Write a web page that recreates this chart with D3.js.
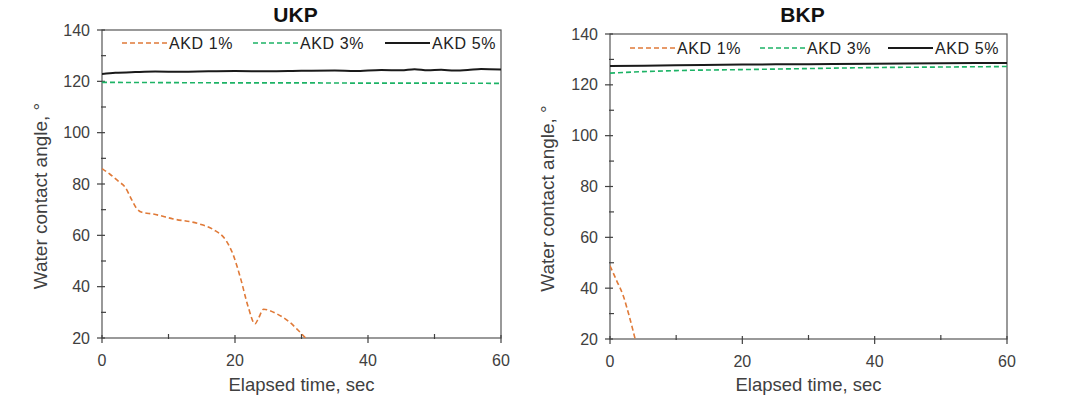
<!DOCTYPE html>
<html><head><meta charset="utf-8">
<script src="https://cdn.jsdelivr.net/npm/d3@7/dist/d3.min.js"></script>
<style>body{margin:0;background:#fff}svg{display:block;font-family:"Liberation Sans",Arial,sans-serif}</style>
</head><body><svg id="c" width="1075" height="407"></svg>
<script>
const panels = ["UKP", "BKP"];
const seriesNames = ["AKD 1%", "AKD 3%", "AKD 5%"];
const xTicks = [0, 20, 40, 60];
const yTicks = [20, 40, 60, 80, 100, 120, 140];
// UKP
const ukpAkd1 = [[0,86],[1.2,83.8],[2.5,81],[3.5,78.7],[4.5,73.7],[5.2,70.5],[6,69],[7.7,68.3],[10.7,66.4],[14.7,64.4],[16.7,62.3],[18.7,57.8],[19.7,52.6],[20.8,43.6],[22,32],[23,25.5],[23.5,27.5],[24.3,31.2],[26.3,29.4],[28.3,26],[29.5,23],[30.6,20]];
const ukpAkd3 = [[0,119.6],[10,119.5],[20,119.4],[30,119.4],[40,119.3],[50,119.3],[60,119.2]];
const ukpAkd5 = [[0,122.9],[2,123.3],[5,123.6],[8,123.8],[12,123.7],[16,123.9],[20,124],[25,123.9],[30,124.1],[35,124.2],[38,124],[42,124.4],[45,124.3],[47,124.7],[49,124.3],[51,124.5],[53,124.2],[55,124.4],[57,124.8],[60,124.6]];
// BKP
const bkpAkd1 = [[0,48.8],[1,43],[2,37],[2.8,30],[3.8,20]];
const bkpAkd3 = [[0,124.6],[5,125.2],[10,125.6],[20,126],[30,126.4],[40,126.8],[50,127],[60,127.2]];
const bkpAkd5 = [[0,127.4],[10,127.7],[20,128],[30,128.1],[40,128.3],[50,128.5],[60,128.6]];

const panelData = [[ukpAkd1, ukpAkd3, ukpAkd5], [bkpAkd1, bkpAkd3, bkpAkd5]];
const colors = ["#E07A38", "#1DB366", "#1a1a1a"];
const dashes = ["5,3", "5,3", null];
const widths = [1.6, 1.6, 2];

const layouts = [
  {x0:102, x1:501, y0:30, y1:338, ylabX:40, legLines:[122,253,385], legY:43},
  {x0:610, x1:1007, y0:34, y1:339, ylabX:547, legLines:[630,760,888], legY:48}
];
const svg = d3.select("#c");
const axisCol = "#404040";

panels.forEach((name, pi) => {
  const L = layouts[pi];
  const x = d3.scaleLinear().domain([0, 60]).range([L.x0, L.x1]);
  const y = d3.scaleLinear().domain([20, 140]).range([L.y1, L.y0]);
  const g = svg.append("g");
  const clipId = "clip" + pi;
  svg.append("clipPath").attr("id", clipId).append("rect")
    .attr("x", L.x0).attr("y", L.y0).attr("width", L.x1 - L.x0).attr("height", L.y1 - L.y0);

  g.append("rect").attr("x", L.x0).attr("y", L.y0).attr("width", L.x1 - L.x0).attr("height", L.y1 - L.y0)
    .attr("fill", "none").attr("stroke", "#555").attr("stroke-width", 1.2);

  d3.range(20, 141, 10).forEach(v => {
    const major = v % 20 === 0;
    g.append("line").attr("x1", x(0) - (major ? 5 : 1)).attr("x2", x(0) + (major ? 3 : 4))
      .attr("y1", y(v)).attr("y2", y(v)).attr("stroke", axisCol).attr("stroke-width", 1.2);
  });
  yTicks.forEach(v => {
    g.append("text").attr("x", x(0) - 12).attr("y", y(v)).attr("dy", "0.35em")
      .attr("text-anchor", "end").attr("font-size", 16).attr("fill", axisCol).text(v);
  });
  d3.range(0, 61, 10).forEach(v => {
    const major = v % 20 === 0;
    g.append("line").attr("x1", x(v)).attr("x2", x(v))
      .attr("y1", y(20) + (major ? 5 : 1)).attr("y2", y(20) - (major ? 3 : 4))
      .attr("stroke", axisCol).attr("stroke-width", 1.2);
  });
  xTicks.forEach(v => {
    g.append("text").attr("x", x(v)).attr("y", L.y1 + 22).attr("dy", "0.35em")
      .attr("text-anchor", "middle").attr("font-size", 16).attr("fill", axisCol).text(v);
  });

  g.append("text").attr("x", (L.x0 + L.x1) / 2 - 6).attr("y", 15).attr("dy", "0.35em")
    .attr("text-anchor", "middle").attr("font-size", 21).attr("font-weight", "bold").attr("fill", "#111").text(name);
  g.append("text").attr("x", (L.x0 + L.x1) / 2).attr("y", 385).attr("dy", "0.35em")
    .attr("text-anchor", "middle").attr("font-size", 18.5).attr("fill", axisCol).text("Elapsed time, sec");
  g.append("text").attr("transform", `translate(${L.ylabX},${(L.y0 + L.y1) / 2 + 12}) rotate(-90)`)
    .attr("dy", "0.35em").attr("text-anchor", "middle").attr("font-size", 19).attr("fill", axisCol)
    .text("Water contact angle, °");

  const line = d3.line().x(d => x(d[0])).y(d => y(d[1])).curve(d3.curveMonotoneX);
  panelData[pi].forEach((data, si) => {
    g.append("path").datum(data).attr("d", line).attr("fill", "none")
      .attr("clip-path", `url(#${clipId})`)
      .attr("stroke", colors[si]).attr("stroke-width", widths[si])
      .attr("stroke-dasharray", dashes[si]);
  });

  seriesNames.forEach((s, si) => {
    const lx = L.legLines[si];
    g.append("line").attr("x1", lx).attr("x2", lx + 45).attr("y1", L.legY).attr("y2", L.legY)
      .attr("stroke", colors[si]).attr("stroke-width", widths[si]).attr("stroke-dasharray", dashes[si]);
    g.append("text").attr("x", lx + 47).attr("y", L.legY).attr("dy", "0.35em")
      .attr("font-size", 16).attr("letter-spacing", 0.6).attr("fill", "#222").text(s);
  });
});
</script></body></html>
